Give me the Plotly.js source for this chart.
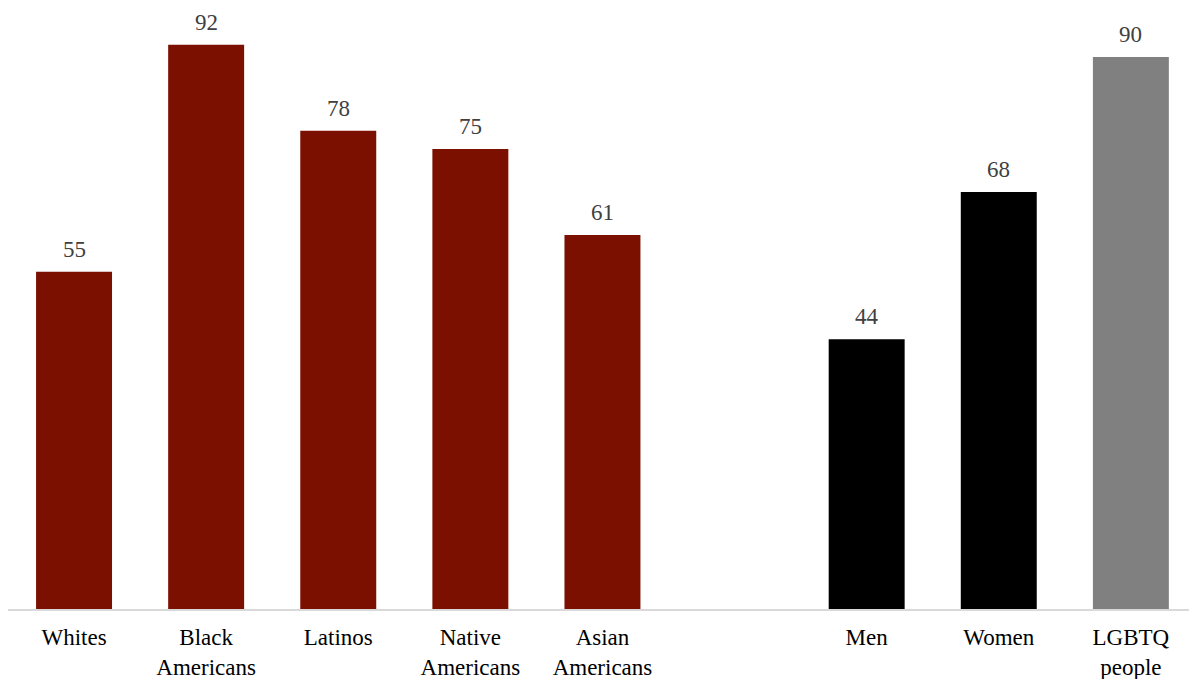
<!DOCTYPE html>
<html>
<head>
<meta charset="utf-8">
<script src="https://cdn.plot.ly/plotly-3.0.1.min.js"></script>
<style>html,body{margin:0;padding:0;background:#fff;}#chart{width:1189px;height:679px;}</style>
</head>
<body>
<div id="chart"></div>
<script>
const categories = ["Whites", "Black<br>Americans", "Latinos", "Native<br>Americans", "Asian<br>Americans", " ", "Men", "Women", "LGBTQ<br>people"];
const values = [55, 92, 78, 75, 61, null, 44, 68, 90];
const labels = ["55", "92", "78", "75", "61", "", "44", "68", "90"];
const barColors = ["#7B0F00", "#7B0F00", "#7B0F00", "#7B0F00", "#7B0F00", "#7B0F00", "#000000", "#000000", "#808080"];

const FONT = "Liberation Serif";

const trace = {
  type: "bar",
  x: categories,
  y: values,
  marker: {color: barColors, line: {width: 0}},
  width: 0.575,
  hoverinfo: "none"
};

const annotations = [];
categories.forEach((c, i) => {
  if (values[i] === null) return;
  annotations.push({
    x: c, y: values[i], xref: "x", yref: "y",
    text: labels[i], showarrow: false,
    xanchor: "center", yanchor: "bottom", yshift: 8,
    font: {family: FONT, size: 23, color: "#404040"}
  });
});

const layout = {
  width: 1189,
  height: 679,
  margin: {l: 8, r: 0, t: 0, b: 70},
  paper_bgcolor: "#ffffff",
  plot_bgcolor: "#ffffff",
  showlegend: false,
  font: {family: FONT, size: 23, color: "#000000"},
  annotations: annotations,
  xaxis: {
    type: "category",
    range: [-0.5, 8.44],
    showgrid: false,
    zeroline: false,
    showline: true,
    linecolor: "#d9d9d9",
    linewidth: 2,
    ticks: "",
    ticklabelstandoff: 6,
    tickfont: {family: FONT, size: 23, color: "#000000"},
    fixedrange: true
  },
  yaxis: {
    range: [0, 99.3],
    showgrid: false,
    zeroline: false,
    showline: false,
    showticklabels: false,
    ticks: "",
    fixedrange: true
  }
};

Plotly.newPlot("chart", [trace], layout, {displayModeBar: false, staticPlot: true});
</script>
</body>
</html>
